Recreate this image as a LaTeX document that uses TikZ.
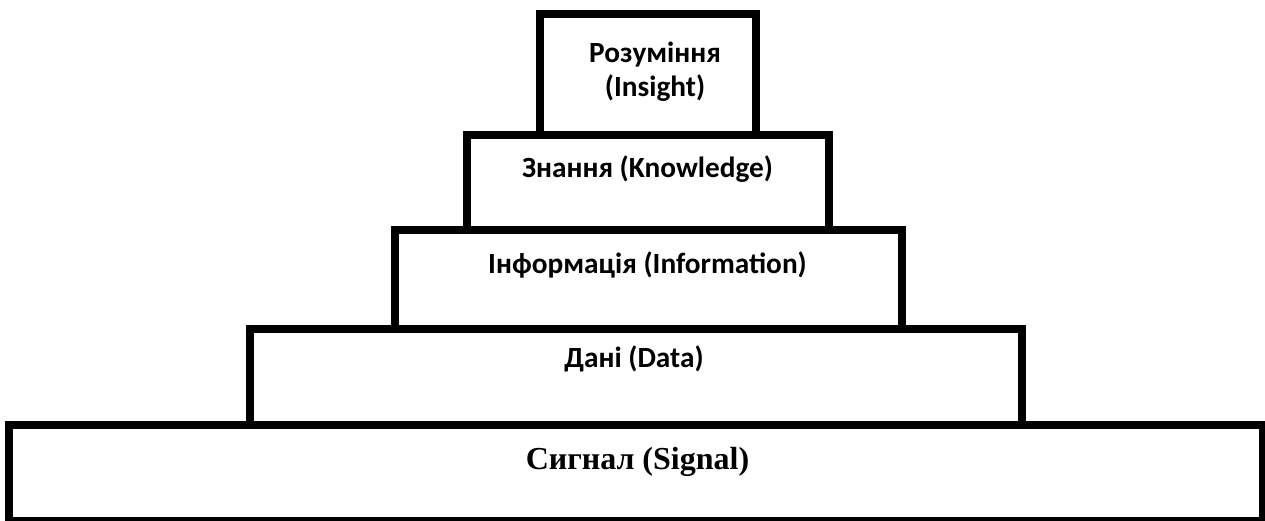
\documentclass[tikz,border=0pt]{standalone}
\usepackage{fontspec}
\newfontfamily\calib{Carlito}
\newfontfamily\tnr{Liberation Serif}
\begin{document}
\begin{tikzpicture}[x=1pt,y=-1pt,
  box/.style={draw=black,line width=8pt,fill=white,inner sep=0pt},
  lbl/.style={anchor=base,inner sep=0pt,font=\calib\bfseries\fontsize{29.3}{35}\selectfont},
  slbl/.style={anchor=base,inner sep=0pt,font=\tnr\bfseries\fontsize{32}{38}\selectfont}]
\useasboundingbox (0,0) rectangle (1265,520);
\clip (0,0) rectangle (1265,520);
\node[box,minimum width=1254pt,minimum height=96pt] (signal) at (636,473) {};
\node[box,minimum width=772pt,minimum height=96pt] (data) at (636,377) {};
\node[box,minimum width=507pt,minimum height=99pt] (info) at (648.5,279.5) {};
\node[box,minimum width=362pt,minimum height=95.5pt] (know) at (648,182.25) {};
\node[box,minimum width=216.5pt,minimum height=120.5pt] (ins) at (647.75,74.25) {};
\node[lbl] (t1a) at (655,62) {Розуміння};
\node[lbl] (t1b) at (655,96) {(Insight)};
\node[lbl] (t2) at (647.5,177) {Знання (Knowledge)};
\node[lbl] (t3) at (647.5,273) {Інформація (Information)};
\node[lbl] (t4) at (634,367) {Дані (Data)};
\node[slbl] (t5) at (637.5,469) {Сигнал (Signal)};
\end{tikzpicture}
\end{document}
